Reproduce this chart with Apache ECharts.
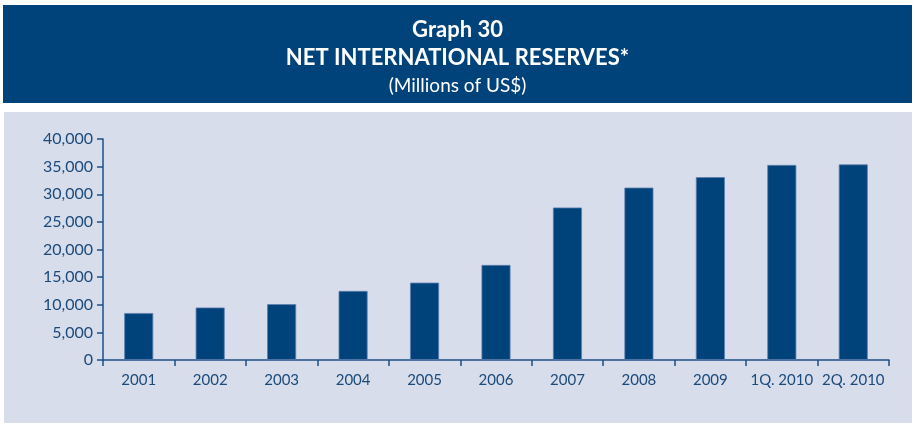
<!DOCTYPE html>
<html>
<head>
<meta charset="utf-8">
<script src="https://cdn.jsdelivr.net/npm/echarts@6/dist/echarts.min.js"></script>
<style>
  html, body { margin: 0; padding: 0; background: #fff; }
  #chart { width: 915px; height: 425px; }
</style>
</head>
<body>
<div id="chart"></div>
<script>
// Graph 30 - Net international reserves (millions of US$)
const categories = ['2001', '2002', '2003', '2004', '2005', '2006', '2007', '2008', '2009', '1Q. 2010', '2Q. 2010'];
const reserves = [8500, 9500, 10100, 12500, 14000, 17200, 27600, 31200, 33100, 35300, 35400];
const yTicks = [0, 5000, 10000, 15000, 20000, 25000, 30000, 35000, 40000];

const navy = '#00427a';
const axisColor = '#1d4f86';
const labelColor = '#1b4a7c';
const panel = '#d7ddea';
const font = 'Lato, "Liberation Sans", sans-serif';

const chart = echarts.init(document.getElementById('chart'), null, { renderer: 'canvas' });

chart.setOption({
    animation: false,
    backgroundColor: '#fff',
    graphic: [
        { type: 'rect', z: -10, shape: { x: 3, y: 5, width: 909, height: 98 }, style: { fill: navy } },
        { type: 'rect', z: -10, shape: { x: 4, y: 112, width: 908, height: 311 }, style: { fill: panel } }
    ],
    title: [
        {
            text: 'Graph 30', left: 'center', top: 14,
            textStyle: { color: '#fff', fontFamily: font, fontWeight: 'bold', fontSize: 22 }
        },
        {
            text: 'NET INTERNATIONAL RESERVES*', left: 'center', top: 42,
            textStyle: { color: '#fff', fontFamily: font, fontWeight: 'bold', fontSize: 22 }
        },
        {
            text: '(Millions of US$)', left: 'center', top: 71,
            textStyle: { color: '#fff', fontFamily: font, fontWeight: 'normal', fontSize: 19 }
        }
    ],
    grid: { left: 103, right: 26, top: 139, bottom: 65 },
    xAxis: {
        type: 'category',
        data: categories,
        axisLine: { lineStyle: { color: axisColor, width: 1.5 } },
        axisTick: { show: true, length: 6, lineStyle: { color: axisColor, width: 1.5 } },
        axisLabel: { color: labelColor, fontFamily: font, fontSize: 15, margin: 13, interval: 0 }
    },
    yAxis: {
        type: 'value',
        min: 0, max: 40000, interval: 5000,
        axisLine: { show: true, lineStyle: { color: axisColor, width: 1.5 } },
        axisTick: { show: true, length: 6, lineStyle: { color: axisColor, width: 1.5 } },
        splitLine: { show: false },
        axisLabel: {
            color: labelColor, fontFamily: font, fontSize: 16, margin: 10,
            formatter: v => yTicks.includes(v) ? v.toLocaleString('en-US') : ''
        }
    },
    series: [
        {
            type: 'bar',
            data: reserves,
            barWidth: 29,
            itemStyle: { color: navy, borderColor: '#5b7fad', borderWidth: 0.8 }
        }
    ]
});
</script>
</body>
</html>
